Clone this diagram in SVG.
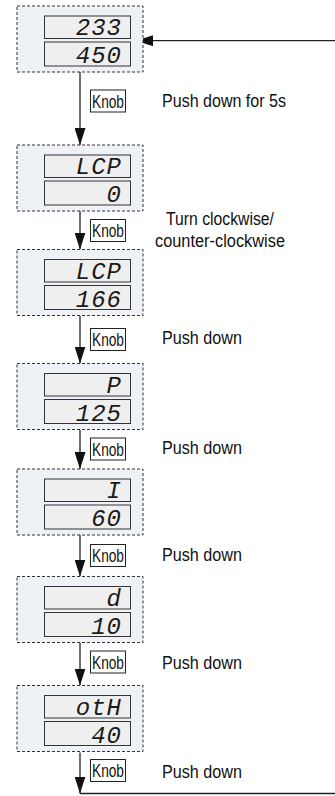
<svg xmlns="http://www.w3.org/2000/svg" width="335" height="796" viewBox="0 0 335 796">
<style>
.box{fill:#eef1f6;stroke:#333;stroke-width:1;stroke-dasharray:3 2}
.disp{fill:#efefef;stroke:#333;stroke-width:1}
.seg{font-family:"Liberation Mono","DejaVu Sans Mono",monospace;font-style:italic;font-size:24px;fill:#1a1a1a;text-anchor:end;letter-spacing:1px}
.knob{fill:#fff;stroke:#222;stroke-width:1}
.kt{font-family:"Liberation Sans",Arial,sans-serif;font-size:18px;fill:#111;text-anchor:middle}
.lbl{font-family:"Liberation Sans",Arial,sans-serif;font-size:17.5px;fill:#111}
.conn{stroke:#222;stroke-width:1.3;fill:none;marker-end:url(#ah)}
</style>
<defs>
<marker id="ah" markerUnits="userSpaceOnUse" viewBox="0 0 17 11" refX="17" refY="5.5" markerWidth="17" markerHeight="11" orient="auto">
<path d="M0,0 L17,5.5 L0,11 z" fill="#111"/>
</marker>
</defs>
<rect width="335" height="796" fill="#fff"/>

<g id="connectors">
<path class="conn" d="M80,72 V145"/>
<path class="conn" d="M80,211 V249.5"/>
<path class="conn" d="M80,316 V363.5"/>
<path class="conn" d="M80,430 V469"/>
<path class="conn" d="M80,535 V576.5"/>
<path class="conn" d="M80,642.5 V685.5"/>
<path class="conn" d="M80,752.5 V793.5"/>
<path class="conn" d="M80,793.5 H345 V40.7 H136"/>
</g>

<g id="labels">
<g id="knob1"><rect class="knob" x="90.5" y="90" width="35" height="22"/><text class="kt" x="108" y="107.5" textLength="32" lengthAdjust="spacingAndGlyphs">Knob</text></g>
<g id="knob2"><rect class="knob" x="90.5" y="219.5" width="35" height="22"/><text class="kt" x="108" y="237" textLength="32" lengthAdjust="spacingAndGlyphs">Knob</text></g>
<g id="knob3"><rect class="knob" x="90.5" y="328.5" width="35" height="22"/><text class="kt" x="108" y="346" textLength="32" lengthAdjust="spacingAndGlyphs">Knob</text></g>
<g id="knob4"><rect class="knob" x="90.5" y="438" width="35" height="22"/><text class="kt" x="108" y="455.5" textLength="32" lengthAdjust="spacingAndGlyphs">Knob</text></g>
<g id="knob5"><rect class="knob" x="90.5" y="544.5" width="35" height="22"/><text class="kt" x="108" y="562" textLength="32" lengthAdjust="spacingAndGlyphs">Knob</text></g>
<g id="knob6"><rect class="knob" x="90.5" y="651" width="35" height="22"/><text class="kt" x="108" y="668.5" textLength="32" lengthAdjust="spacingAndGlyphs">Knob</text></g>
<g id="knob7"><rect class="knob" x="90.5" y="759.5" width="35" height="22"/><text class="kt" x="108" y="777" textLength="32" lengthAdjust="spacingAndGlyphs">Knob</text></g>
<text class="lbl" x="162" y="107" textLength="124" lengthAdjust="spacingAndGlyphs">Push down for 5s</text>
<text class="lbl" x="220" y="224.5" text-anchor="middle" textLength="108" lengthAdjust="spacingAndGlyphs">Turn clockwise/</text>
<text class="lbl" x="220" y="246.5" text-anchor="middle" textLength="130" lengthAdjust="spacingAndGlyphs">counter-clockwise</text>
<text class="lbl" x="162" y="344" textLength="80" lengthAdjust="spacingAndGlyphs">Push down</text>
<text class="lbl" x="162" y="453.5" textLength="80" lengthAdjust="spacingAndGlyphs">Push down</text>
<text class="lbl" x="162" y="561" textLength="80" lengthAdjust="spacingAndGlyphs">Push down</text>
<text class="lbl" x="162" y="668.5" textLength="80" lengthAdjust="spacingAndGlyphs">Push down</text>
<text class="lbl" x="162" y="777.5" textLength="80" lengthAdjust="spacingAndGlyphs">Push down</text>
</g>

<g id="node1"><rect class="box" x="17" y="6" width="126" height="66"/><rect class="disp" x="44.5" y="16" width="86" height="22.5"/><rect class="disp" x="44.5" y="42" width="86" height="24"/><text class="seg" x="122" y="35">233</text><text class="seg" x="122" y="63">450</text></g>
<g id="node2"><rect class="box" x="17" y="145" width="126" height="66"/><rect class="disp" x="44.5" y="155" width="86" height="22.5"/><rect class="disp" x="44.5" y="181" width="86" height="24"/><text class="seg" x="122" y="174">LCP</text><text class="seg" x="122" y="202">0</text></g>
<g id="node3"><rect class="box" x="17" y="249.5" width="126" height="66"/><rect class="disp" x="44.5" y="259.5" width="86" height="22.5"/><rect class="disp" x="44.5" y="285.5" width="86" height="24"/><text class="seg" x="122" y="278.5">LCP</text><text class="seg" x="122" y="306.5">166</text></g>
<g id="node4"><rect class="box" x="17" y="363.5" width="126" height="66"/><rect class="disp" x="44.5" y="373.5" width="86" height="22.5"/><rect class="disp" x="44.5" y="399.5" width="86" height="24"/><text class="seg" x="122" y="392.5">P</text><text class="seg" x="122" y="420.5">125</text></g>
<g id="node5"><rect class="box" x="17" y="469" width="126" height="66"/><rect class="disp" x="44.5" y="479" width="86" height="22.5"/><rect class="disp" x="44.5" y="505" width="86" height="24"/><text class="seg" x="122" y="498">I</text><text class="seg" x="122" y="526">60</text></g>
<g id="node6"><rect class="box" x="17" y="576.5" width="126" height="66"/><rect class="disp" x="44.5" y="586.5" width="86" height="22.5"/><rect class="disp" x="44.5" y="612.5" width="86" height="24"/><text class="seg" x="122" y="605.5">d</text><text class="seg" x="122" y="633.5">10</text></g>
<g id="node7"><rect class="box" x="17" y="685.5" width="126" height="66"/><rect class="disp" x="44.5" y="695.5" width="86" height="22.5"/><rect class="disp" x="44.5" y="721.5" width="86" height="24"/><text class="seg" x="122" y="714.5">otH</text><text class="seg" x="122" y="742.5">40</text></g>
</svg>
